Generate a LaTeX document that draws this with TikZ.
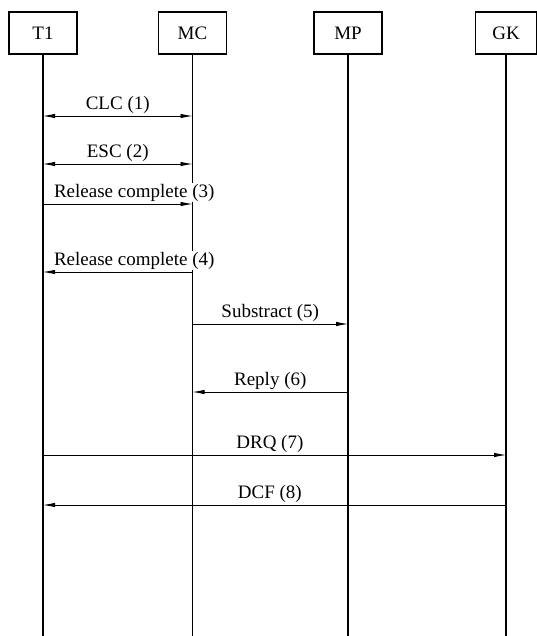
\documentclass[tikz,border=0pt]{standalone}
\usepackage{fontspec}
\setmainfont{Liberation Serif}
\usetikzlibrary{arrows.meta,positioning}
\tikzset{
  entbox/.style={draw, line width=1.6pt, minimum width=68pt, minimum height=42pt, inner sep=0pt, font=\fontsize{19}{21}\selectfont},
  lifeline/.style={line width=1.8pt},
  msgarrow/.style={-{Latex[length=12pt,width=4.5pt]}, line width=0.8pt},
  msgboth/.style={{Latex[length=12pt,width=4.5pt]}-{Latex[length=12pt,width=4.5pt]}, line width=0.8pt},
  msglabel/.style={fill=white, inner sep=1pt, above=1.5pt, font=\fontsize{19}{21}\selectfont},
}

\begin{document}
\begin{tikzpicture}[x=1pt, y=-1pt]
  \useasboundingbox (0,0) rectangle (537,636);

  % Entities
  \node[entbox] (t1) at (43,33) {T1};
  \node[entbox] (mc) at (192.5,33) {MC};
  \node[entbox] (mp) at (348,33) {MP};
  \node[entbox, minimum width=61pt] (gk) at (506,33) {GK};

  % Lifelines
  \coordinate (bottom) at (0,636);
  \draw[lifeline] (t1) -- (t1 |- bottom);
  \draw[lifeline] (mc) -- (mc |- bottom);
  \draw[lifeline] (mp) -- (mp |- bottom);
  \draw[lifeline] (gk) -- (gk |- bottom);

  % Message heights
  \coordinate (m1) at (0,116);
  \coordinate (m2) at (0,164);
  \coordinate (m3) at (0,204);
  \coordinate (m4) at (0,272);
  \coordinate (m5) at (0,324);
  \coordinate (m6) at (0,392);
  \coordinate (m7) at (0,455);
  \coordinate (m8) at (0,505);

  % Messages
  \draw[msgboth] (t1 |- m1) -- node[msglabel] {CLC (1)} (mc |- m1);
  \draw[msgboth] (t1 |- m2) -- node[msglabel] {ESC (2)} (mc |- m2);
  \draw[msgarrow] (t1 |- m3) -- node[msglabel, pos=0.61] {Release complete (3)} (mc |- m3);
  \draw[msgarrow] (mc |- m4) -- node[msglabel, pos=0.39] {Release complete (4)} (t1 |- m4);
  \draw[msgarrow] (mc |- m5) -- node[msglabel] {Substract (5)} (mp |- m5);
  \draw[msgarrow] (mp |- m6) -- node[msglabel] {Reply (6)} (mc |- m6);
  \draw[msgarrow] (t1 |- m7) -- node[msglabel, pos=0.49] {DRQ (7)} (gk |- m7);
  \draw[msgarrow] (gk |- m8) -- node[msglabel, pos=0.51] {DCF (8)} (t1 |- m8);
\end{tikzpicture}
\end{document}
